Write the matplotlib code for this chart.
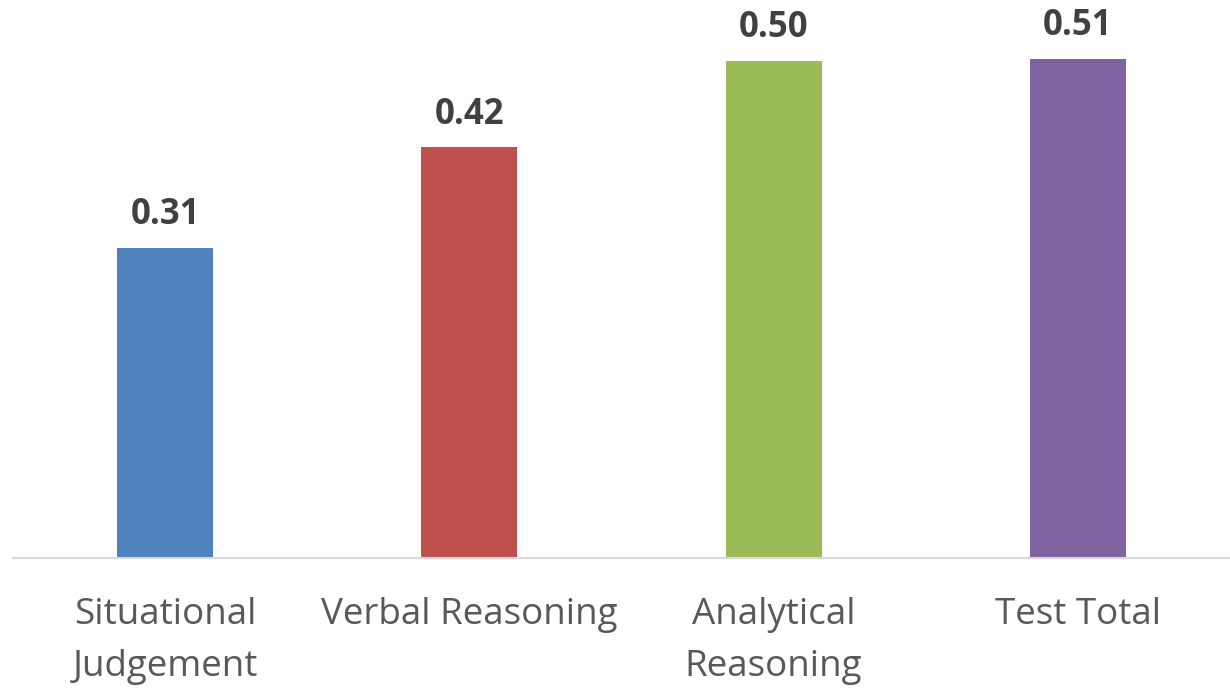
import matplotlib
matplotlib.use("Agg")
import matplotlib.pyplot as plt

categories = ["Situational\nJudgement", "Verbal Reasoning", "Analytical\nReasoning", "Test Total"]
values = [0.314, 0.416, 0.504, 0.506]
colors = ["#4F81BD", "#C0504D", "#9BBB59", "#8064A2"]

plt.rcParams['font.family'] = ['Open Sans', 'DejaVu Sans']

fig = plt.figure(figsize=(12.3, 6.88), dpi=100)
ax = fig.add_axes([13/1230, (688-558)/688, 1 - 13/1230, 558/688])

x = list(range(len(categories)))
ax.bar(x, values, width=0.3155, color=colors)
ax.set_xlim(-0.5, len(categories) - 0.5)
ax.set_ylim(0, 0.5653)

for xi, v in zip(x, values):
    ax.annotate(f"{v:.2f}", (xi, v), xytext=(0, 10.5), textcoords="offset points",
                ha="center", va="bottom", fontsize=25, fontweight="bold", color="#404040",
                annotation_clip=False)

ax.set_xticks(x)
ax.set_xticklabels(categories, fontsize=26.5, color="#595959", linespacing=1.58)
ax.tick_params(axis="x", length=0, pad=28)
ax.set_yticks([])
for s in ["top", "right", "left"]:
    ax.spines[s].set_visible(False)
ax.spines["bottom"].set_color("#D9D9D9")
ax.spines["bottom"].set_linewidth(1.5)

fig.savefig("out.png", dpi=100)
